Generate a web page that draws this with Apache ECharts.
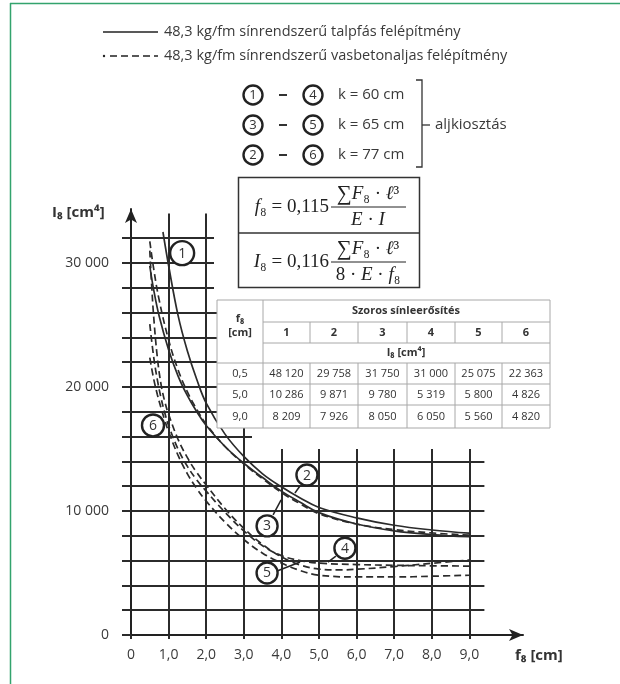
<!DOCTYPE html>
<html>
<head>
<meta charset="utf-8">
<script src="https://cdn.jsdelivr.net/npm/echarts@6/dist/echarts.min.js"></script>
<style>
  html, body { margin: 0; padding: 0; background: #fff; }
  #chart { width: 620px; height: 684px; }
</style>
</head>
<body>
<div id="chart"></div>
<script>
// Lehajlás (f8, cm) – inercianyomaték (I8, cm^4) görbék
const curve1X = [0.85, 1.0, 1.25, 1.5, 1.75, 2.0, 2.5, 3.0, 3.5, 4.0, 4.5, 5.0, 6.0, 7.0, 8.0, 9.0];
const curve1I = [32500, 29800, 25800, 22900, 20600, 18700, 16200, 14400, 13000, 11950, 11050, 10286, 9450, 8850, 8470, 8209];

const curve2X = [0.5, 0.6, 0.75, 1.0, 1.25, 1.5, 1.75, 2.0, 2.5, 3.0, 3.5, 4.0, 4.5, 5.0, 6.0, 7.0, 8.0, 9.0];
const curve2I = [29758, 27900, 25700, 23000, 20900, 19300, 18000, 16900, 15200, 13850, 12700, 11600, 10700, 9871, 8950, 8400, 8100, 7926];

const curve3X = [0.5, 0.6, 0.75, 1.0, 1.25, 1.5, 1.75, 2.0, 2.5, 3.0, 3.5, 4.0, 4.5, 5.0, 6.0, 7.0, 8.0, 9.0];
const curve3I = [31750, 29600, 27000, 23800, 21400, 19600, 18200, 17000, 15200, 13800, 12600, 11500, 10580, 9780, 8950, 8500, 8230, 8050];

const curve4X = [0.5, 0.55, 0.6, 0.7, 0.8, 0.9, 1.0, 1.25, 1.5, 1.75, 2.0, 2.5, 3.0, 3.5, 4.0, 4.5, 5.0, 5.5, 6.0, 7.0, 8.0, 9.0];
const curve4I = [31000, 28200, 25800, 22400, 20200, 18800, 17800, 15800, 14300, 13100, 12100, 10200, 8600, 7300, 6300, 5650, 5319, 5250, 5300, 5520, 5780, 6050];

const curve5X = [0.5, 0.6, 0.7, 0.8, 0.9, 1.0, 1.25, 1.5, 1.75, 2.0, 2.5, 3.0, 3.5, 4.0, 4.5, 5.0, 6.0, 7.0, 8.0, 9.0];
const curve5I = [25075, 22500, 20600, 19100, 17900, 16900, 15000, 13600, 12500, 11600, 9900, 8400, 7200, 6400, 6000, 5800, 5680, 5620, 5580, 5560];

const curve6X = [0.5, 0.6, 0.7, 0.8, 0.9, 1.0, 1.25, 1.5, 1.75, 2.0, 2.5, 3.0, 3.5, 4.0, 4.5, 5.0, 6.0, 7.0, 8.0, 9.0];
const curve6I = [22363, 20700, 19400, 18300, 17300, 16400, 14500, 13000, 11800, 10800, 9100, 7700, 6600, 5800, 5200, 4826, 4680, 4680, 4740, 4820];

// Táblázat: szoros sínleerősítés
const tableF = ['0,5', '5,0', '9,0'];
const tableCols = ['1', '2', '3', '4', '5', '6'];
const tableI1 = [48120, 10286, 8209];
const tableI2 = [29758, 9871, 7926];
const tableI3 = [31750, 9780, 8050];
const tableI4 = [31000, 5319, 6050];
const tableI5 = [25075, 5800, 5560];
const tableI6 = [22363, 4826, 4820];

// Aljkiosztás párok
const pairA = ['1', '3', '2'];
const pairB = ['4', '5', '6'];
const pairK = ['k = 60 cm', 'k = 65 cm', 'k = 77 cm'];

const legendTexts = [
  '48,3 kg/fm sínrendszerű talpfás felépítmény',
  '48,3 kg/fm sínrendszerű vasbetonaljas felépítmény'
];

const INK = '#2b2b2b';
const TXT = '#3a3a3a';
const SANS = 'Open Sans';
const SERIF = 'Liberation Serif';
const DASH = [7, 4];

function zip(xs, ys) { return xs.map((x, i) => [x, ys[i]]); }
function groupNum(n) { return String(n).replace(/\B(?=(\d{3})+(?!\d))/g, ' '); }

const curves = [
  { name: '1', x: curve1X, y: curve1I, type: 'solid' },
  { name: '2', x: curve2X, y: curve2I, type: 'solid' },
  { name: '3', x: curve3X, y: curve3I, type: DASH },
  { name: '4', x: curve4X, y: curve4I, type: DASH },
  { name: '5', x: curve5X, y: curve5I, type: DASH },
  { name: '6', x: curve6X, y: curve6I, type: DASH }
];

const chart = echarts.init(document.getElementById('chart'), null, { renderer: 'canvas' });

const option = {
  animation: false,
  backgroundColor: '#fff',
  grid: [
    { left: 131, right: 135.6, top: 213.4, bottom: 49 },
    { left: 131, right: 97, top: 209, bottom: 49 }
  ],
  xAxis: [
    {
      gridIndex: 0, type: 'value', min: 0, max: 9.4, interval: 1,
      axisLine: { show: false },
      axisTick: { show: true, length: 4, lineStyle: { color: INK, width: 2 } },
      axisLabel: {
        margin: 13, fontSize: 14, color: TXT, fontFamily: SANS, showMaxLabel: false,
        formatter: v => (v === 0 ? '0' : v.toFixed(1).replace('.', ','))
      },
      splitLine: { show: true, showMinLine: false, showMaxLine: false, lineStyle: { color: INK, width: 2 } }
    },
    {
      gridIndex: 1, type: 'value', min: 0, max: 1,
      axisLine: { show: true, symbol: ['none', 'arrow'], symbolSize: [9, 14], lineStyle: { color: '#222', width: 2 } },
      axisTick: { show: false }, axisLabel: { show: false }, splitLine: { show: false }
    }
  ],
  yAxis: [
    {
      gridIndex: 0, type: 'value', min: 0, max: 34000, interval: 2000,
      axisLine: { show: false },
      axisTick: { show: true, length: 9, lineStyle: { color: INK, width: 2 } },
      axisLabel: {
        margin: 22, fontSize: 14, color: TXT, fontFamily: SANS, showMaxLabel: false,
        formatter: v => (v % 10000 === 0 ? groupNum(v) : '')
      },
      splitLine: { show: true, showMinLine: false, showMaxLine: false, lineStyle: { color: INK, width: 2 } }
    },
    {
      gridIndex: 1, type: 'value', min: 0, max: 1,
      axisLine: { show: true, symbol: ['none', 'arrow'], symbolSize: [9, 14], lineStyle: { color: '#222', width: 2 } },
      axisTick: { show: false }, axisLabel: { show: false }, splitLine: { show: false }
    }
  ],
  series: curves.map(c => ({
    name: c.name,
    type: 'line',
    xAxisIndex: 0, yAxisIndex: 0,
    data: zip(c.x, c.y),
    smooth: 0.4,
    symbol: 'none',
    clip: true,
    z: 3,
    lineStyle: { color: INK, width: 1.7, type: c.type }
  }))
};

chart.setOption(option);

// ---- annotations -------------------------------------------------------
const px = (x, y) => chart.convertToPixel({ gridIndex: 0 }, [x, y]);

function circleNum(cx, cy, r, t, fs, z) {
  return [
    { type: 'circle', shape: { cx, cy, r }, style: { fill: '#fff', stroke: '#222', lineWidth: 2.4 }, z: z || 60 },
    { type: 'text', x: cx, y: cy + 0.5, style: { text: t, fill: '#333', font: `${fs}px "${SANS}"`, align: 'center', verticalAlign: 'middle' }, z: (z || 60) + 1 }
  ];
}

const g = [];

// page frame
g.push({ type: 'line', shape: { x1: 10.5, y1: 3, x2: 10.5, y2: 684 }, style: { stroke: '#33a36d', lineWidth: 1.5 }, z: 90 });
g.push({ type: 'line', shape: { x1: 10, y1: 3.5, x2: 620, y2: 3.5 }, style: { stroke: '#33a36d', lineWidth: 1.5 }, z: 90 });

// the grid stops short of the text boxes
g.push({ type: 'rect', shape: { x: 214, y: 200, width: 406, height: 101 }, style: { fill: '#fff' }, z: 40 });
g.push({ type: 'rect', shape: { x: 252, y: 427, width: 260, height: 22 }, style: { fill: '#fff' }, z: 40 });

// line-style key
g.push({ type: 'line', shape: { x1: 103, y1: 32, x2: 158, y2: 32 }, style: { stroke: '#222', lineWidth: 1.6 }, z: 60 });
g.push({ type: 'circle', shape: { cx: 104, cy: 56, r: 1.2 }, style: { fill: '#222' }, z: 60 });
g.push({ type: 'line', shape: { x1: 110, y1: 56, x2: 158, y2: 56 }, style: { stroke: '#222', lineWidth: 1.6, lineDash: DASH }, z: 60 });
legendTexts.forEach((t, i) => {
  g.push({ type: 'text', x: 164, y: 32 + i * 24, style: { text: t, fill: TXT, font: `14.5px "${SANS}"`, verticalAlign: 'middle' }, z: 60 });
});

// k spacing key
pairA.forEach((a, i) => {
  const cy = 95 + i * 30;
  g.push(...circleNum(253, cy, 9.5, a, 13));
  g.push({ type: 'line', shape: { x1: 279, y1: cy, x2: 287, y2: cy }, style: { stroke: '#333', lineWidth: 2 }, z: 60 });
  g.push(...circleNum(313, cy, 9.5, pairB[i], 13));
  g.push({ type: 'text', x: 338, y: cy, style: { text: pairK[i], fill: TXT, font: `15px "${SANS}"`, verticalAlign: 'middle' }, z: 60 });
});
g.push({ type: 'polyline', shape: { points: [[416, 80], [422, 80], [422, 167], [416, 167]] }, style: { stroke: '#333', lineWidth: 1.3, fill: null }, z: 60 });
g.push({ type: 'line', shape: { x1: 422, y1: 125, x2: 430, y2: 125 }, style: { stroke: '#333', lineWidth: 1.3 }, z: 60 });
g.push({ type: 'text', x: 435, y: 125, style: { text: 'aljkiosztás', fill: TXT, font: `15px "${SANS}"`, verticalAlign: 'middle' }, z: 60 });

// formula boxes
g.push({ type: 'rect', shape: { x: 238.5, y: 177.5, width: 181, height: 110 }, style: { fill: '#fff', stroke: '#333', lineWidth: 1.5 }, z: 60 });
g.push({ type: 'line', shape: { x1: 238.5, y1: 233, x2: 419.5, y2: 233 }, style: { stroke: '#333', lineWidth: 1.5 }, z: 61 });
const rich = {
  i: { fontStyle: 'italic', fontFamily: SERIF, fontSize: 19, fill: '#222' },
  n: { fontFamily: SERIF, fontSize: 19, fill: '#222' },
  s: { fontFamily: SERIF, fontSize: 21, fill: '#222' }
};
function formula(yMid, lead, num, den) {
  g.push({ type: 'text', x: 329, y: yMid, style: { text: lead, rich, align: 'right', verticalAlign: 'middle' }, z: 62 });
  g.push({ type: 'text', x: 368, y: yMid - 13, style: { text: num, rich, align: 'center', verticalAlign: 'middle' }, z: 62 });
  g.push({ type: 'line', shape: { x1: 331, y1: yMid, x2: 406, y2: yMid }, style: { stroke: '#222', lineWidth: 1 }, z: 62 });
  g.push({ type: 'text', x: 368, y: yMid + 13, style: { text: den, rich, align: 'center', verticalAlign: 'middle' }, z: 62 });
}
formula(207, '{i|f}{n|₈ = 0,115}', '{s|∑}{i|F}{n|₈ · }{i|ℓ}{n|³}', '{i|E}{n| · }{i|I}');
formula(262, '{i|I}{n|₈ = 0,116}', '{s|∑}{i|F}{n|₈ · }{i|ℓ}{n|³}', '{n|8 · }{i|E}{n| · }{i|f}{n|₈}');

// data table
const colX = [217, 263, 310, 358, 407, 455, 502, 550];
const rowY = [300, 322, 343, 363, 384, 405, 428];
const TB = '#a8a8a8';
g.push({ type: 'rect', shape: { x: 217, y: 300, width: 333, height: 128 }, style: { fill: '#fff', stroke: TB, lineWidth: 1 }, z: 60 });
const tl = (x1, y1, x2, y2) => g.push({ type: 'line', shape: { x1, y1, x2, y2 }, style: { stroke: TB, lineWidth: 1 }, z: 61 });
tl(263, 300, 263, 428);
for (let c = 2; c < 7; c++) { tl(colX[c], 322, colX[c], 343); tl(colX[c], 363, colX[c], 428); }
tl(263, 322, 550, 322); tl(263, 343, 550, 343);
for (let r = 3; r < 6; r++) tl(217, rowY[r], 550, rowY[r]);
const ttxt = (x, y, t, bold, size) => g.push({ type: 'text', x, y, style: { text: t, fill: '#333', font: `${bold ? 'bold ' : ''}${size || 11}px "${SANS}"`, align: 'center', verticalAlign: 'middle' }, z: 62 });
ttxt(240, 319, 'f₈', true, 11);
ttxt(240, 333, '[cm]', true, 11);
ttxt(406, 311, 'Szoros sínleerősítés', true, 11);
tableCols.forEach((t, c) => ttxt((colX[c + 1] + colX[c + 2]) / 2, 332.5, t, true, 11));
ttxt(406, 353, 'I₈ [cm⁴]', true, 11);
const tableColumnsI = [tableI1, tableI2, tableI3, tableI4, tableI5, tableI6];
tableF.forEach((f, r) => {
  const cy = (rowY[r + 3] + rowY[r + 4]) / 2;
  ttxt(240, cy, f, false, 11);
  tableColumnsI.forEach((col, c) => ttxt((colX[c + 1] + colX[c + 2]) / 2, cy, groupNum(col[r]), false, 11));
});

// axis names
g.push({ type: 'text', x: 52, y: 213, style: { text: 'I₈ [cm⁴]', fill: '#333', font: `bold 15px "${SANS}"`, verticalAlign: 'middle' }, z: 60 });
g.push({ type: 'text', x: 515, y: 656, style: { text: 'f₈ [cm]', fill: '#333', font: `bold 15px "${SANS}"`, verticalAlign: 'middle' }, z: 60 });

// curve number markers
const lab = [
  { t: '1', at: [1.36, 30800], r: 12, ptr: null },
  { t: '6', at: [0.585, 16900], r: 11, ptr: null },
  { t: '2', at: [4.68, 12900], r: 10.5, ptr: [[-7, 11], [-12, 18]] },
  { t: '3', at: [3.62, 8800], r: 10.5, ptr: [[6, -11], [14, -26]] },
  { t: '4', at: [5.69, 7000], r: 10.5, ptr: [[-9, 8], [-17, 14]] },
  { t: '5', at: [3.62, 5000], r: 10.5, ptr: [[10, -2], [33, -11]] }
];
lab.forEach(l => {
  const p = px(l.at[0], l.at[1]);
  if (l.ptr) {
    g.push({ type: 'line', shape: { x1: p[0] + l.ptr[0][0], y1: p[1] + l.ptr[0][1], x2: p[0] + l.ptr[1][0], y2: p[1] + l.ptr[1][1] }, style: { stroke: '#222', lineWidth: 1.5 }, z: 64 });
  }
  g.push(...circleNum(p[0], p[1], l.r, l.t, 14, 65));
});

chart.setOption({ graphic: { elements: g } });
</script>
</body>
</html>
